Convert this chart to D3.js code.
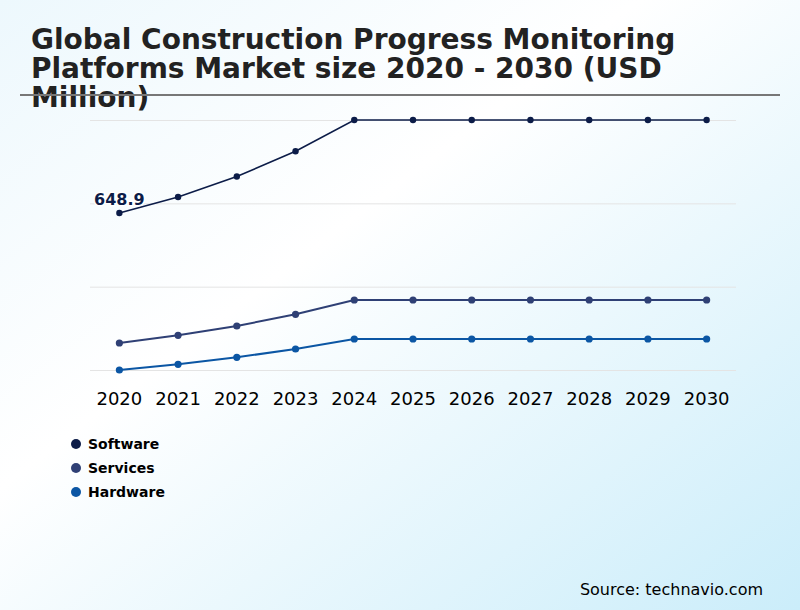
<!DOCTYPE html>
<html>
<head>
<meta charset="utf-8">
<script src="https://cdn.jsdelivr.net/npm/d3@7"></script>
<style>
  html, body { margin: 0; padding: 0; }
  body { width: 800px; height: 610px; overflow: hidden; }
</style>
</head>
<body>
<div id="chart"></div>
<script>
// data
var years = ["2020", "2021", "2022", "2023", "2024", "2025", "2026", "2027", "2028", "2029", "2030"];
var software = [648.9, 702.7, 771.7, 856.6, 962.0, 962.0, 962.0, 962.0, 962.0, 962.0, 962.0];
var services = [210.9, 236.9, 268.2, 307.6, 355.8, 355.8, 355.8, 355.8, 355.8, 355.8, 355.8];
var hardware = [120.0, 139.2, 162.8, 190.7, 224.4, 224.4, 224.4, 224.4, 224.4, 224.4, 224.4];
var seriesNames = ["Software", "Services", "Hardware"];
var seriesColors = ["#0c1c48", "#2f4075", "#0b56a4"];

var width = 800,
    height = 610;
var margin = {top: 120, right: 64, bottom: 240, left: 90};

var series = [software, services, hardware];

var svg = d3.select("#chart")
            .append("svg")
            .attr("width", width)
            .attr("height", height);

// background gradient
var grad = svg.append("defs")
              .append("linearGradient")
              .attr("id", "bg")
              .attr("x1", "0%").attr("y1", "0%")
              .attr("x2", "100%").attr("y2", "100%");
grad.append("stop").attr("offset", "0%").attr("stop-color", "#edf8fd");
grad.append("stop").attr("offset", "40%").attr("stop-color", "#ffffff");
grad.append("stop").attr("offset", "100%").attr("stop-color", "#cbedfa");
svg.append("rect")
   .attr("width", width)
   .attr("height", height)
   .attr("fill", "url(#bg)");

// title
var title = svg.append("text")
   .attr("x", 31)
   .attr("y", 49)
   .attr("font-family", "DejaVu Sans")
   .attr("font-weight", "bold")
   .attr("font-size", 28)
   .attr("fill", "#222");
var titleLines = ["Global Construction Progress Monitoring", "Platforms Market size 2020 - 2030 (USD", "Million)"];
titleLines.forEach(function(t, i) {
  title.append("tspan").attr("x", 31).attr("dy", i == 0 ? 0 : 29).text(t);
});

// header rule
svg.append("line")
   .attr("x1", 20).attr("x2", 780)
   .attr("y1", 95).attr("y2", 95)
   .attr("stroke", "#777")
   .attr("stroke-width", 2);

// scales
var xScale = d3.scaleBand()
               .domain(years)
               .range([margin.left, width - margin.right]);
var allValues = software.concat(services, hardware);
var yScale = d3.scaleLinear()
               .domain(d3.extent(allValues))
               .range([height - margin.bottom, margin.top]);
var yTicks = d3.range(4).map(function(i) {
  var d = yScale.domain();
  return d[0] + i * (d[1] - d[0]) / 3;
});

// gridlines
svg.append("g")
   .attr("transform", "translate(" + margin.left + ",0)")
   .call(d3.axisLeft(yScale).tickValues(yTicks).tickSize(-(width - margin.left - margin.right)).tickFormat(""))
   .call(function(g) { g.select(".domain").remove(); })
   .call(function(g) { g.selectAll(".tick line").attr("stroke", "#e4e4e4"); });

// x axis
svg.append("g")
   .attr("transform", "translate(0," + (height - margin.bottom + 19) + ")")
   .call(d3.axisBottom(xScale).tickSize(0))
   .call(function(g) { g.select(".domain").remove(); })
   .call(function(g) {
     g.selectAll(".tick text")
      .attr("font-family", "DejaVu Sans")
      .attr("font-size", 18)
      .attr("fill", "#000");
   });

// lines and points
var cx = function(d, i) { return xScale(years[i]) + xScale.bandwidth() / 2; };
series.forEach(function(vals, s) {
  svg.append("path")
     .datum(vals)
     .attr("fill", "none")
     .attr("stroke", seriesColors[s])
     .attr("stroke-width", s == 0 ? 1.6 : 2)
     .attr("d", d3.line()
                  .x(cx)
                  .y(function(d) { return yScale(d); }));
  svg.append("g")
     .selectAll("circle")
     .data(vals)
     .enter()
     .append("circle")
     .attr("cx", cx)
     .attr("cy", function(d) { return yScale(d); })
     .attr("r", s == 0 ? 3.2 : 3.6)
     .attr("fill", seriesColors[s]);
});

// first value label
svg.append("text")
   .attr("x", cx(software[0], 0))
   .attr("y", yScale(software[0]) - 8)
   .attr("text-anchor", "middle")
   .attr("font-family", "DejaVu Sans")
   .attr("font-weight", "bold")
   .attr("font-size", 16)
   .attr("fill", "#0c1c48")
   .attr("stroke", "#ffffff")
   .attr("stroke-width", 3)
   .attr("paint-order", "stroke")
   .text(d3.format(".1f")(software[0]));

// legend
var legend = svg.append("g")
   .selectAll("g")
   .data(seriesNames)
   .enter()
   .append("g")
   .attr("transform", function(d, i) { return "translate(76," + (444 + i * 24) + ")"; });
legend.append("circle")
      .attr("r", 5)
      .attr("fill", function(d, i) { return seriesColors[i]; });
legend.append("text")
      .attr("x", 12)
      .attr("y", 5)
      .attr("font-family", "DejaVu Sans")
      .attr("font-weight", "bold")
      .attr("font-size", 14)
      .attr("fill", "#000")
      .text(function(d) { return d; });

// source
svg.append("text")
   .attr("x", 763)
   .attr("y", 595)
   .attr("text-anchor", "end")
   .attr("font-family", "DejaVu Sans")
   .attr("font-size", 16)
   .attr("fill", "#000")
   .text("Source: technavio.com");
</script>
</body>
</html>
